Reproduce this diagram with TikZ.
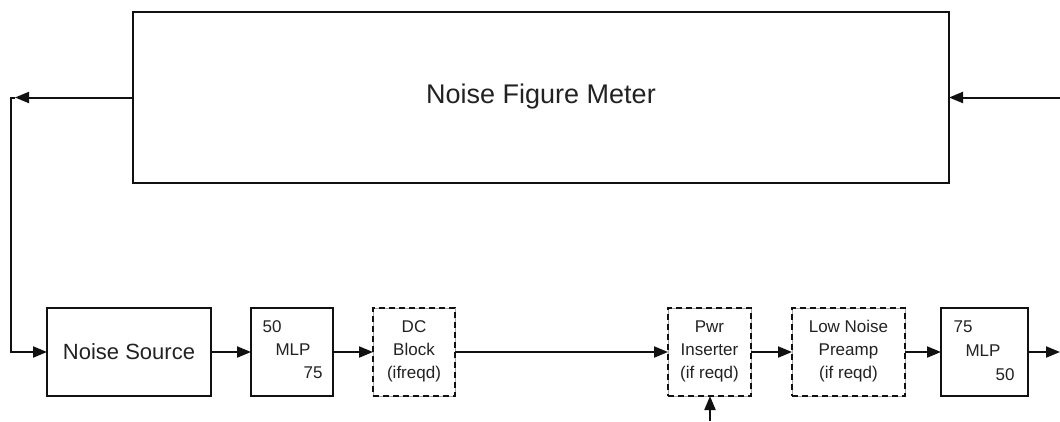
\documentclass[tikz,border=0pt]{standalone}
\usepackage{fontspec}
\setmainfont{Liberation Sans}
\usetikzlibrary{arrows.meta}
\definecolor{txt}{HTML}{222222}
\definecolor{ln}{HTML}{111111}
\begin{document}
\begin{tikzpicture}[x=1pt,y=-1pt,
  box/.style={draw=ln,line width=2pt,inner sep=0pt,outer sep=0pt,minimum height=88pt},
  dbox/.style={box,dash pattern=on 6pt off 4pt},
  gline/.style={draw=gray!70,line width=0.7pt},
  wire/.style={draw=ln,line width=2pt},
  conn/.style={wire,-{Triangle[length=14pt,width=11pt]}},
  lbl/.style={font=\fontsize{17}{23}\selectfont,text=txt,align=center,inner sep=0pt}]
\useasboundingbox[fill=white] (0,0) rectangle (1060,421);
% boxes
\node[box,minimum width=816pt,minimum height=171pt] (nfm) at (541,97.5) {};
\node[font=\fontsize{27}{30}\selectfont,text=txt] (nfmt) at (541,97) {Noise Figure Meter};
\node[box,minimum width=164pt] (ns) at (129,352) {};
\node[font=\fontsize{22}{26}\selectfont,text=txt] (nst) at (129,352) {Noise Source};
\node[box,minimum width=82pt] (mlpa) at (292,352) {};
\node[lbl] (mlpa1) at (272,327) {50};
\node[lbl] (mlpa2) at (293,350) {MLP};
\node[lbl] (mlpa3) at (313,373) {75};
\draw[gline] (373,308) rectangle (455,396);
\node[dbox,minimum width=82pt] (dc) at (414,352) {};
\node[lbl] (dct) at (414,351) {DC\\Block\\(ifreqd)};
\draw[gline] (668,308) rectangle (751,396);
\node[dbox,minimum width=83pt] (pwr) at (709.5,352) {};
\node[lbl] (pwrt) at (709.5,351) {Pwr\\Inserter\\(if reqd)};
\draw[gline] (792,308) rectangle (905,396);
\node[dbox,minimum width=113pt] (lna) at (848.5,352) {};
\node[lbl] (lnat) at (848.5,351) {Low Noise\\Preamp\\(if reqd)};
\node[box,minimum width=87pt] (mlpb) at (984.5,352) {};
\node[lbl] (mlpb1) at (963,327) {75};
\node[lbl] (mlpb2) at (983,351) {MLP};
\node[lbl] (mlpb3) at (1005,375) {50};
% coordinates
\coordinate (la) at (15,97.5);
\coordinate (lc) at (11,97.5);
\coordinate (rin) at (1060,97.5);
\coordinate (out) at (1060,352);
\coordinate (pin) at (710,421);
% connectors
\draw[conn] (nfm.west) -- (la);
\draw[conn] (la) -- (lc) |- (ns.west);
\draw[conn] (rin) -- (nfm.east);
\draw[conn] (ns.east) -- (mlpa.west);
\draw[conn] (mlpa.east) -- (dc.west);
\draw[conn] (dc.east) -- (pwr.west);
\draw[conn] (pwr.east) -- (lna.west);
\draw[conn] (lna.east) -- (mlpb.west);
\draw[conn] (mlpb.east) -- (out);
\draw[conn] (pin) -- (pin |- pwr.south);
\end{tikzpicture}
\end{document}
